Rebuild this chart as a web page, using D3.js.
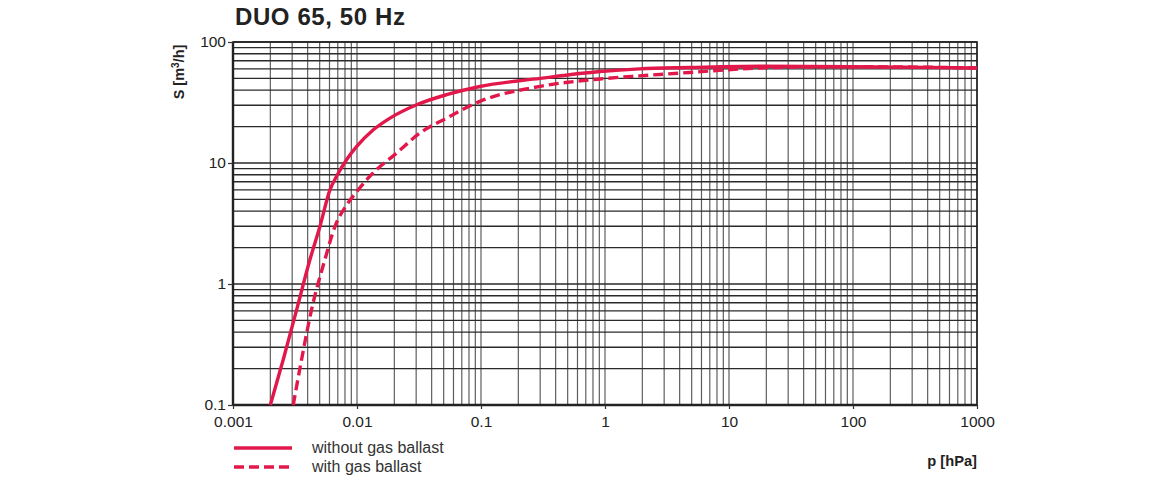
<!DOCTYPE html>
<html><head><meta charset="utf-8">
<script src="https://cdn.jsdelivr.net/npm/d3@7"></script>
<style>
body{margin:0;background:#fff;}
svg{display:block;font-family:"Liberation Sans",Arial,sans-serif;}
</style></head>
<body><svg id="c" width="1160" height="480"></svg>
<script>
const title = "DUO 65, 50 Hz";
const xTickValues = [0.001, 0.01, 0.1, 1, 10, 100, 1000];
const xTickLabels = ["0.001", "0.01", "0.1", "1", "10", "100", "1000"];
const yTickValues = [0.1, 1, 10, 100];
const yTickLabels = ["0.1", "1", "10", "100"];
const seriesNames = ["without gas ballast", "with gas ballast"];
// without gas ballast
const pressureA = [0.002, 0.00255, 0.00327, 0.00418, 0.00503, 0.00605, 0.00686, 0.00826, 0.00995, 0.01355, 0.01846, 0.0303, 0.0528, 0.098, 0.30, 0.91, 1.9, 4.8, 17.7, 100, 1000];
const speedA    = [0.1,   0.24,    0.62,    1.6,     3.0,     6.0,     7.8,     10.7,    13.7,    18.8,    23.5,    30.3,   36.7,   42.9,  50,   57,   60,  61.5, 63,   62.5, 61];
// with gas ballast
const pressureB = [0.00306, 0.00358, 0.00431, 0.00552, 0.00665, 0.00826, 0.00995, 0.01273, 0.0209, 0.0322, 0.0528, 0.098, 0.30, 0.91, 1.9, 4.8, 17.7, 31, 100, 1000];
const speedB    = [0.1,     0.24,    0.62,    1.6,     3.0,     4.5,     5.8,     7.8,     12.1,   17.7,   23.5,   32.3,  43,   49.5, 52.5, 56, 61,   62, 62.5, 61];

const svg = d3.select("#c");
const L = 233, R = 977, T = 42, B = 405;
const x = d3.scaleLog().domain([0.001, 1000]).range([L, R]);
const y = d3.scaleLog().domain([0.1, 100]).range([B, T]);
const red = "#e2184b";

// minor grid values
const xGrid = [], yGrid = [];
for (let e = -3; e < 3; e++) for (let m = 1; m < 10; m++) xGrid.push(m * Math.pow(10, e));
xGrid.push(1000);
for (let e = -1; e < 2; e++) for (let m = 1; m < 10; m++) yGrid.push(m * Math.pow(10, e));
yGrid.push(100);

const g = svg.append("g");
g.selectAll("line.vx").data(xGrid).enter().append("line")
  .attr("x1", d => x(d)).attr("x2", d => x(d)).attr("y1", T).attr("y2", B)
  .attr("stroke", "#5e5e5e").attr("stroke-width", 1.2);
g.selectAll("line.hy").data(yGrid).enter().append("line")
  .attr("x1", L).attr("x2", R).attr("y1", d => y(d)).attr("y2", d => y(d))
  .attr("stroke", "#2a2a2a").attr("stroke-width", 1.3);

// frame
g.append("rect").attr("x", L).attr("y", T).attr("width", R - L).attr("height", B - T)
  .attr("fill", "none").attr("stroke", "#222").attr("stroke-width", 1.6);
g.append("line").attr("x1", L).attr("x2", L).attr("y1", T).attr("y2", B).attr("stroke", "#222").attr("stroke-width", 2.4);
g.append("line").attr("x1", L).attr("x2", R).attr("y1", B).attr("y2", B).attr("stroke", "#222").attr("stroke-width", 2.4);

// axes
const xAxis = d3.axisBottom(x).tickValues(xTickValues).tickFormat((d, i) => xTickLabels[i]).tickSize(4).tickPadding(7);
const yAxis = d3.axisLeft(y).tickValues(yTickValues).tickFormat((d, i) => yTickLabels[i]).tickSize(5).tickPadding(2);
const xa = svg.append("g").attr("transform", `translate(0,${B})`).call(xAxis);
const ya = svg.append("g").attr("transform", `translate(${L},0)`).call(yAxis);
[xa, ya].forEach(a => {
  a.select(".domain").remove();
  a.selectAll(".tick line").attr("stroke", "#333").attr("stroke-width", 1.2);
  a.selectAll("text").attr("fill", "#222").style("font-size", "15.5px");
});

// curves
const line = d3.line().x(d => x(d[0])).y(d => y(d[1])).curve(d3.curveMonotoneX);
const dataA = pressureA.map((p, i) => [p, speedA[i]]);
const dataB = pressureB.map((p, i) => [p, speedB[i]]);
svg.append("path").datum(dataB).attr("d", line).attr("fill", "none")
  .attr("stroke", red).attr("stroke-width", 3.4).attr("stroke-dasharray", "10,5");
svg.append("path").datum(dataA).attr("d", line).attr("fill", "none")
  .attr("stroke", red).attr("stroke-width", 3.4);

// title & labels
svg.append("text").attr("x", 235).attr("y", 25).text(title)
  .attr("fill", "#222").style("font-size", "24px").style("font-weight", "bold").style("letter-spacing", "0.6px");
const yl = svg.append("text").attr("transform", "translate(184,72) rotate(-90)").attr("text-anchor", "middle")
  .attr("fill", "#222").style("font-size", "14.5px").style("font-weight", "bold");
yl.append("tspan").text("S [m");
yl.append("tspan").attr("dy", -5).style("font-size", "10px").text("3");
yl.append("tspan").attr("dy", 5).text("/h]");
svg.append("text").attr("x", R).attr("y", 466).attr("text-anchor", "end")
  .text("p [hPa]").attr("fill", "#222").style("font-size", "14.7px").style("font-weight", "bold");

// legend
const leg = svg.append("g");
seriesNames.forEach((n, i) => {
  const yy = 448 + i * 19;
  leg.append("line").attr("x1", 234).attr("x2", 292).attr("y1", yy).attr("y2", yy)
    .attr("stroke", red).attr("stroke-width", 3.4).attr("stroke-dasharray", i ? "10,5" : null);
  leg.append("text").attr("x", 312).attr("y", yy + 5).text(n)
    .attr("fill", "#333").style("font-size", "16px");
});
</script></body></html>
